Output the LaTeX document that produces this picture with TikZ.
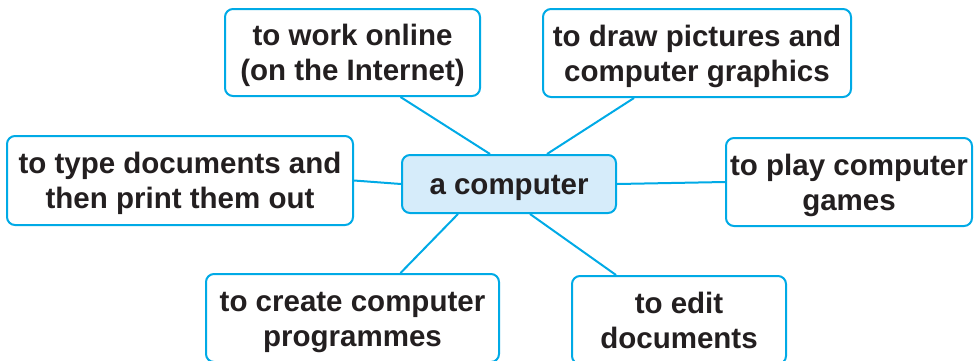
\documentclass[tikz,border=0pt]{standalone}
\usepackage{fontspec}
\setmainfont{Liberation Sans}
\usepackage{xcolor}
\usetikzlibrary{positioning,calc}

\definecolor{mapline}{RGB}{0,170,230}
\definecolor{mapfill}{RGB}{214,236,250}
\definecolor{maptext}{RGB}{35,31,32}

\tikzset{
  idea/.style={draw=mapline, line width=2pt, rounded corners=8pt, fill=white,
    align=center, inner sep=0pt, text=maptext,
    font=\fontsize{29.5}{35}\selectfont\bfseries,
    text height=56pt, text depth=0pt},
  hub/.style={idea, fill=mapfill, text height=21pt},
  link/.style={draw=mapline, line width=2pt}
}

\begin{document}
\begin{tikzpicture}[x=1pt, y=-1pt]
  \useasboundingbox (0,0) rectangle (974,360);
  \clip (0,0) rectangle (974,360);

  % Centre
  \node[hub, minimum width=214pt, minimum height=58pt] (comp) at (509,184) {a computer};

  % Uses
  \node[idea, minimum width=255pt, minimum height=87pt] (online) at (352.5,52.5) {to work online\\(on the Internet)};
  \node[idea, minimum width=308pt, minimum height=88pt] (draw) at (697,53) {to draw pictures and\\computer graphics};
  \node[idea, minimum width=346pt, minimum height=89pt] (type) at (180,180.5) {to type documents and\\then print them out};
  \node[idea, minimum width=246pt, minimum height=88pt] (games) at (849,182) {to play computer\\games};
  \node[idea, minimum width=293pt, minimum height=88pt] (prog) at (352.5,318) {to create computer\\programmes};
  \node[idea, minimum width=214pt, minimum height=88pt] (edit) at (679,320) {to edit\\documents};

  % Links
  \draw[link] ([xshift=48pt]online.south) -- ([xshift=-19pt]comp.north);
  \draw[link] ([xshift=-63pt]draw.south) -- ([xshift=38pt]comp.north);
  \draw[link] (type.east) -- (comp.west);
  \draw[link] (comp.east) -- (games.west);
  \draw[link] ([xshift=48pt]prog.north) -- ([xshift=-51pt]comp.south);
  \draw[link] ([xshift=-63pt]edit.north) -- ([xshift=21pt]comp.south);
\end{tikzpicture}
\end{document}
